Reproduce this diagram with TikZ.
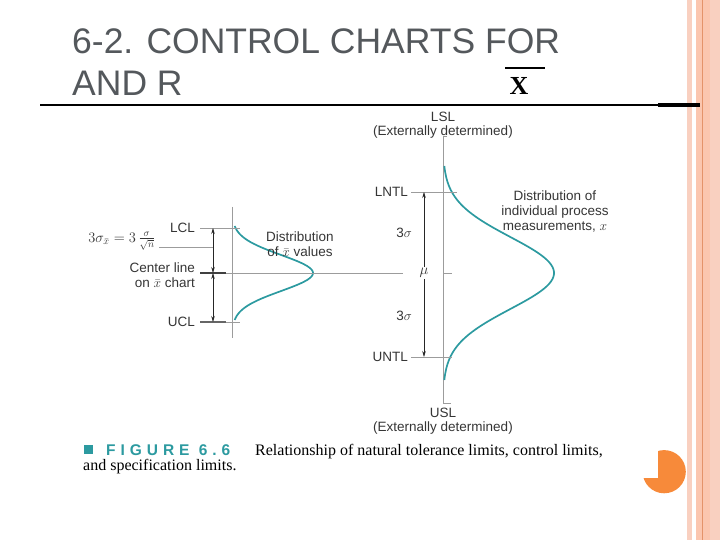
\RequirePackage{fix-cm}
\documentclass[tikz,border=0pt]{standalone}
\usepackage{fontspec}
\setmainfont{Liberation Sans}
\newfontfamily\captionserif{Liberation Serif}
\usetikzlibrary{arrows.meta}

\tikzset{
    label/.style={font=\fontsize{13.5}{15}\selectfont, text=labelColour, inner sep=1pt},
    guide/.style={draw=guideColour, line width=0.6pt},
    dimline/.style={draw=black!85, line width=0.6pt, {Stealth[length=6pt,width=3.5pt]}-{Stealth[length=6pt,width=3.5pt]}},
    bellcurve/.style={draw=curveColour, line width=1.7pt, smooth}
}

\begin{document}
\begin{tikzpicture}[x=1pt, y=-1pt]
    % Define colours
    \definecolor{titleColour}{HTML}{54585C}
    \definecolor{labelColour}{HTML}{353535}
    \definecolor{guideColour}{HTML}{9C9C9C}
    \definecolor{curveColour}{HTML}{2C9AA0}
    \definecolor{stripeLight}{HTML}{F9D0C0}
    \definecolor{stripeMid}{HTML}{FBC6AF}
    \definecolor{stripeLine}{HTML}{E4936A}
    \definecolor{pieColour}{HTML}{F78A3A}

    % Define axis positions
    \def\meanY{273}
    \def\bigAxis{443}
    \def\smallAxis{232}

    \useasboundingbox (0,0) rectangle (720,540);

    % Draw right border stripes
    \fill[stripeLight] (687,0) rectangle (692,540);
    \fill[stripeMid] (696,0) rectangle (720,540);
    \fill[stripeLight] (710,0) rectangle (720,540);
    \draw[stripeLine, line width=1.2pt] (702.5,0) -- (702.5,540);

    % Draw title
    \node[anchor=base west, inner sep=0, text=titleColour, font=\fontsize{35.5}{40}\selectfont] (title1) at (72,54) {6-2. CONTROL CHARTS FOR};
    \node[anchor=base west, inner sep=0, text=titleColour, font=\fontsize{35.5}{40}\selectfont] (title2) at (72,96) {AND R};
    \node[anchor=base, inner sep=0, font=\captionserif\bfseries\fontsize{26}{28}\selectfont] (xbar) at (519,95) {X};
    \draw[line width=1.4pt] (505,68) -- (545,68);

    % Draw rule under title
    \draw[line width=2pt] (40,105) -- (670,105);
    \draw[line width=3.5pt] (658,105) -- (700,105);

    % Draw axes
    \draw[guide] (\bigAxis,136) -- (\bigAxis,403) -- (451,403);
    \draw[guide] (\bigAxis,136) -- (447,136);
    \draw[guide] (\smallAxis,207) -- (\smallAxis,338);

    % Draw distributions
    \draw[bellcurve, domain=-107:107, samples=90] plot ({\bigAxis+111*exp(-(\x*\x)/2592)}, {\meanY+\x});
    \draw[bellcurve, domain=-47:47, samples=60] plot ({\smallAxis+81*exp(-(\x*\x)/648)}, {\meanY+\x});

    % Label specification limits
    \node[label] (LSL) at (443,117) {LSL};
    \node[label] (LSLnote) at (443,132) {(Externally determined)};
    \node[label] (USL) at (443,413) {USL};
    \node[label] (USLnote) at (443,428) {(Externally determined)};

    % Label natural tolerance limits
    \coordinate (LNTLtop) at (424,192);
    \coordinate (UNTLbot) at (424,357);
    \node[label, anchor=east] (LNTL) at (409,192) {LNTL};
    \node[label, anchor=east] (UNTL) at (409,357) {UNTL};
    \draw[guide] (LNTL.east) ++(2,0) -- (457,192);
    \draw[guide] (UNTL.east) ++(2,0) -- (452,357);
    \draw[dimline] (LNTLtop) -- (UNTLbot);
    \node[label] (sigUp) at (404,233) {3$\sigma$};
    \node[label] (sigDown) at (404,316) {3$\sigma$};
    \node[label, fill=white, inner sep=1.5pt, font=\fontsize{15}{16}\selectfont] (mu) at (424,\meanY) {$\mu$};
    \draw[guide] (\bigAxis,\meanY) -- (452,\meanY);

    \node[label, align=center] (distX) at (555,211) {Distribution of\\individual process\\measurements, $x$};

    % Label control limits
    \node[label, anchor=east] (LCL) at (196,228) {LCL};
    \node[label, anchor=east, align=right] (centre) at (196,275) {Center line\\on $\bar{x}$ chart};
    \node[label, anchor=east] (UCL) at (196,322) {UCL};
    \draw[guide] (200,228) -- (240,228);
    \draw[guide] (200,\meanY) -- (403,\meanY);
    \draw[guide] (226,322) -- (240,322);
    \draw[black!75, line width=1.1pt] (200,\meanY) -- (226,\meanY);
    \draw[black!60, line width=1.4pt] (200,322) -- (226,322);

    \coordinate (LCLpt) at (213,228);
    \coordinate (CLpt) at (213,\meanY);
    \coordinate (UCLpt) at (213,322);
    \draw[dimline] (LCLpt) -- (CLpt);
    \draw[dimline] (CLpt) -- (UCLpt);

    \node[label, anchor=east, font=\fontsize{14.5}{15}\selectfont, inner sep=0.5pt] (sigmaXbar) at (156,241) {$3\sigma_{\bar{x}} = 3\,\frac{\sigma}{\sqrt{n}}$};
    \draw[guide] (sigmaXbar.east) ++(3,6) -- (213,247);

    \node[label, align=center] (distXbar) at (300,244) {Distribution\\of $\bar{x}$ values};

    % Draw figure caption
    \fill[curveColour] (84,445) rectangle (93,454);
    \node[anchor=base west, inner sep=0, text=curveColour, font=\bfseries\fontsize{15.5}{17}\selectfont\addfontfeatures{LetterSpace=32}] (figno) at (106,455) {FIGURE 6.6};
    \node[anchor=base west, inner sep=0, font=\captionserif\fontsize{16}{18}\selectfont] (cap1) at (255,455) {Relationship of natural tolerance limits, control limits,};
    \node[anchor=base west, inner sep=0, font=\captionserif\fontsize{16}{18}\selectfont] (cap2) at (83,470) {and specification limits.};

    % Draw corner mark
    \fill[pieColour] (664.2,471.7) circle (21.6);
    \fill[white] (641,449) rectangle (658.3,478.3);
\end{tikzpicture}
\end{document}
